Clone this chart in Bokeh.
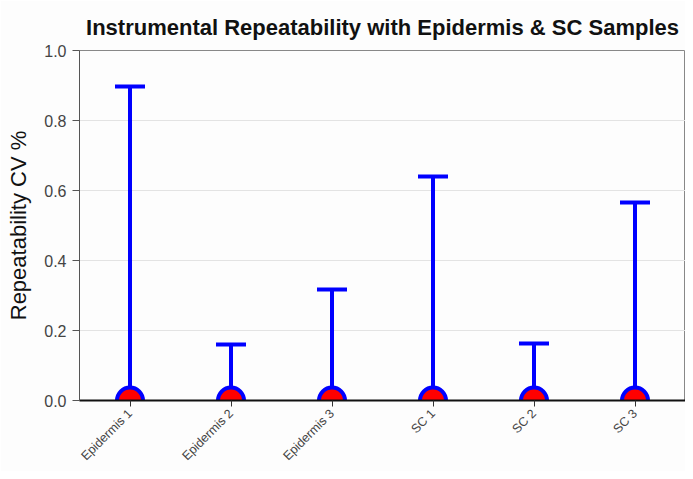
from bokeh.plotting import figure
from bokeh.embed import file_html
from bokeh.resources import INLINE
from bokeh.models import ColumnDataSource, FixedTicker, NumeralTickFormatter
import math

samples = ["Epidermis 1", "Epidermis 2", "Epidermis 3", "SC 1", "SC 2", "SC 3"]
mean_cv = [0.0, 0.0, 0.0, 0.0, 0.0, 0.0]
upper_cv = [0.897, 0.16, 0.317, 0.64, 0.163, 0.566]

src = ColumnDataSource(dict(x=samples, mean=mean_cv, upper=upper_cv))

p = figure(x_range=samples, y_range=(0, 1.0), width=685, height=471,
           output_backend="svg", toolbar_location=None,
           min_border_left=79, min_border_right=0, min_border_top=50, min_border_bottom=71)

p.title.text = "Instrumental Repeatability with Epidermis & SC Samples"
p.title.align = "center"
p.title.text_font = "Liberation Sans"
p.title.text_font_size = "22px"
p.title.text_font_style = "bold"
p.title.text_color = "#111111"
p.title.standoff = 22

p.segment(x0="x", y0="mean", x1="x", y1="upper", source=src, line_color="#0000ff", line_width=4)
p.scatter(x="x", y="upper", source=src, marker="dash", size=30, line_color="#0000ff", line_width=4)
p.scatter(x="x", y="mean", source=src, marker="circle", size=26, fill_color="#ff0000",
          line_color="#0000ff", line_width=4)

p.outline_line_color = "#888888"
p.outline_line_width = 1
p.background_fill_color = "#fdfdfd"
p.border_fill_color = "#fdfdfd"

p.xgrid.grid_line_color = None
p.ygrid.grid_line_color = "#e3e3e3"
p.yaxis.ticker = FixedTicker(ticks=[0, 0.2, 0.4, 0.6, 0.8, 1.0])
p.yaxis.formatter = NumeralTickFormatter(format="0.0")
p.yaxis.axis_label = "Repeatability CV %"
p.yaxis.axis_label_text_font = "Liberation Sans"
p.yaxis.axis_label_text_font_size = "22px"
p.yaxis.axis_label_text_font_style = "normal"
p.yaxis.axis_label_text_color = "#111111"
p.yaxis.axis_label_standoff = 10
p.yaxis.axis_line_color = "#555555"
p.yaxis.major_tick_line_color = "#555555"
p.yaxis.minor_tick_line_color = None
p.yaxis.major_tick_out = 7
p.yaxis.major_tick_in = 0
p.yaxis.major_label_standoff = 6
p.yaxis.major_label_text_font = "Liberation Sans"
p.yaxis.major_label_text_font_size = "16px"
p.yaxis.major_label_text_color = "#444444"

p.xaxis.axis_line_color = "#111111"
p.xaxis.axis_line_width = 2
p.xaxis.major_tick_line_color = "#333333"
p.xaxis.major_tick_out = 6
p.xaxis.major_tick_in = 0
p.xaxis.major_label_standoff = 5
p.xaxis.major_label_orientation = math.pi / 4
p.xaxis.major_label_text_font = "Liberation Sans"
p.xaxis.major_label_text_font_size = "12.5px"
p.xaxis.major_label_text_color = "#444444"

open("out.html", "w").write(file_html(p, INLINE))
